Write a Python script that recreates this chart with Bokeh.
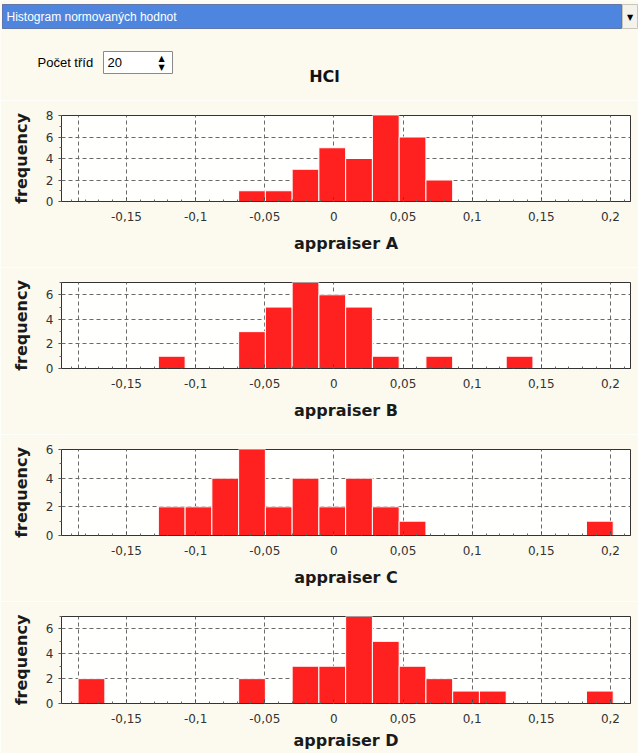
import numpy as np
from bokeh.plotting import figure
from bokeh.layouts import column
from bokeh.models import Range1d, FixedTicker
from bokeh.core.properties import value
from bokeh.embed import file_html
from bokeh.resources import INLINE

# ---------------- data ----------------
title_text = "HCl"
appraisers = ["appraiser A", "appraiser B", "appraiser C", "appraiser D"]
bin_min = -0.185
bin_max = 0.202
n_bins = 20
counts_A = [0, 0, 0, 0, 0, 0, 1, 1, 3, 5, 4, 8, 6, 2, 0, 0, 0, 0, 0, 0]
counts_B = [0, 0, 0, 1, 0, 0, 3, 5, 7, 6, 5, 1, 0, 1, 0, 0, 1, 0, 0, 0]
counts_C = [0, 0, 0, 2, 2, 4, 6, 2, 4, 2, 4, 2, 1, 0, 0, 0, 0, 0, 0, 1]
counts_D = [2, 0, 0, 0, 0, 0, 2, 0, 3, 3, 7, 5, 3, 2, 1, 1, 0, 0, 0, 1]
x_ticks = [-0.15, -0.1, -0.05, 0.0, 0.05, 0.1, 0.15, 0.2]
x_tick_labels = ["-0,15", "-0,1", "-0,05", "0", "0,05", "0,1", "0,15", "0,2"]
y_ticks = [0, 2, 4, 6, 8]
x_lo, x_hi = -0.197, 0.2145

all_counts = [counts_A, counts_B, counts_C, counts_D]

BG = "#FCFAEF"
PLOT_BG = "#FFFFFD"
BAR = "#FF2020"
FONT = "DejaVu Sans"
W = 638

# ---------------- header ----------------
hdr = figure(width=W, height=100, x_range=Range1d(0, W), y_range=Range1d(100, 0),
             output_backend="svg", toolbar_location=None, min_border=0)
hdr.frame_align = False
hdr.axis.visible = False
hdr.grid.visible = False
hdr.outline_line_color = None
hdr.background_fill_color = BG
hdr.border_fill_color = BG

hdr.quad(left=[2], right=[621], top=[4], bottom=[28], fill_color="#4E86DF",
         line_color="#1E2E66", line_dash="1 1", line_width=1)
hdr.text(x=[6], y=[16.5], text=["Histogram normovaných hodnot"], text_font=value("Liberation Sans"),
         text_font_size="12px", text_color="white", text_baseline="middle", text_align="left")
hdr.quad(left=[622], right=[637], top=[4], bottom=[28], fill_color="#F4F2EA", line_color="#C8C5BA")
hdr.text(x=[629.5], y=[17], text=["▼"], text_font=value(FONT), text_font_size="8px",
         text_color="black", text_baseline="middle", text_align="center")

hdr.text(x=[37], y=[62], text=["Počet tříd"], text_font=value("Liberation Sans"),
         text_font_size="13px", text_color="black", text_baseline="middle", text_align="left")
hdr.quad(left=[103], right=[172], top=[51], bottom=[73], fill_color="white", line_color="#8A8A8A")
hdr.text(x=[107], y=[62], text=["20"], text_font=value("Liberation Sans"),
         text_font_size="13px", text_color="black", text_baseline="middle", text_align="left")
hdr.text(x=[161], y=[57.5], text=["▲"], text_font=value(FONT), text_font_size="8px",
         text_color="black", text_baseline="middle", text_align="center")
hdr.text(x=[161], y=[66.5], text=["▼"], text_font=value(FONT), text_font_size="8px",
         text_color="black", text_baseline="middle", text_align="center")
hdr.text(x=[324], y=[76], text=[title_text], text_font=value(FONT), text_font_style="bold",
         text_font_size="16px", text_color="#111111", text_baseline="middle", text_align="center")

# ---------------- histograms ----------------
edges = np.linspace(bin_min, bin_max, n_bins + 1)
figs = [hdr]
for i, (name, counts) in enumerate(zip(appraisers, all_counts)):
    last = i == len(appraisers) - 1
    h = 152 if last else 167
    ymax = max(counts)
    p = figure(width=W, height=h, x_range=Range1d(x_lo, x_hi), y_range=Range1d(0, ymax),
               output_backend="svg", toolbar_location=None,
               min_border_left=61, min_border_right=8, min_border_top=15,
               min_border_bottom=50 if last else 66)
    p.background_fill_color = PLOT_BG
    p.border_fill_color = BG
    p.outline_line_color = "#333333"

    c = np.array(counts)
    m = c > 0
    p.quad(left=edges[:-1][m], right=edges[1:][m], bottom=0, top=c[m],
           fill_color=BAR, line_color="white", line_width=1)

    # x axis
    p.xaxis.ticker = FixedTicker(ticks=x_ticks, minor_ticks=list(np.round(np.arange(-0.19, 0.215, 0.01), 3)))
    p.xaxis.major_label_overrides = {t: l for t, l in zip(x_ticks, x_tick_labels)}
    p.xaxis.axis_label = name
    p.xaxis.axis_label_standoff = 5 if last else 10
    p.xaxis.major_label_standoff = 10
    p.xaxis.major_tick_in = 4
    p.xaxis.major_tick_out = 0
    p.xaxis.minor_tick_in = 2
    p.xaxis.minor_tick_out = 0

    # y axis
    p.yaxis.ticker = FixedTicker(ticks=[t for t in y_ticks if t <= ymax],
                                 minor_ticks=list(range(0, ymax + 1)))
    p.yaxis.axis_label = "frequency"
    p.yaxis.axis_label_standoff = 12
    p.yaxis.major_label_standoff = 5
    p.yaxis.major_tick_in = 0
    p.yaxis.major_tick_out = 3
    p.yaxis.minor_tick_in = 0
    p.yaxis.minor_tick_out = 2

    for ax in (p.xaxis, p.yaxis):
        ax.axis_label_text_font = FONT
        ax.axis_label_text_font_style = "bold"
        ax.axis_label_text_font_size = "16px"
        ax.axis_label_text_color = "#1A1A1A"
        ax.major_label_text_font = FONT
        ax.major_label_text_font_size = "12px"
        ax.major_label_text_color = "#333333"
        ax.axis_line_color = "#333333"
        ax.major_tick_line_color = "#444444"
        ax.minor_tick_line_color = "#666666"

    p.xgrid.ticker = FixedTicker(ticks=[bin_min] + x_ticks)
    p.ygrid.ticker = FixedTicker(ticks=[t for t in y_ticks if t <= ymax])
    for g in (p.xgrid, p.ygrid):
        g.grid_line_color = "#6A6A6A"
        g.grid_line_dash = "4 3"
        g.grid_line_width = 1
    figs.append(p)

layout = column(*figs, spacing=0)
open("out.html", "w").write(file_html(layout, INLINE))
